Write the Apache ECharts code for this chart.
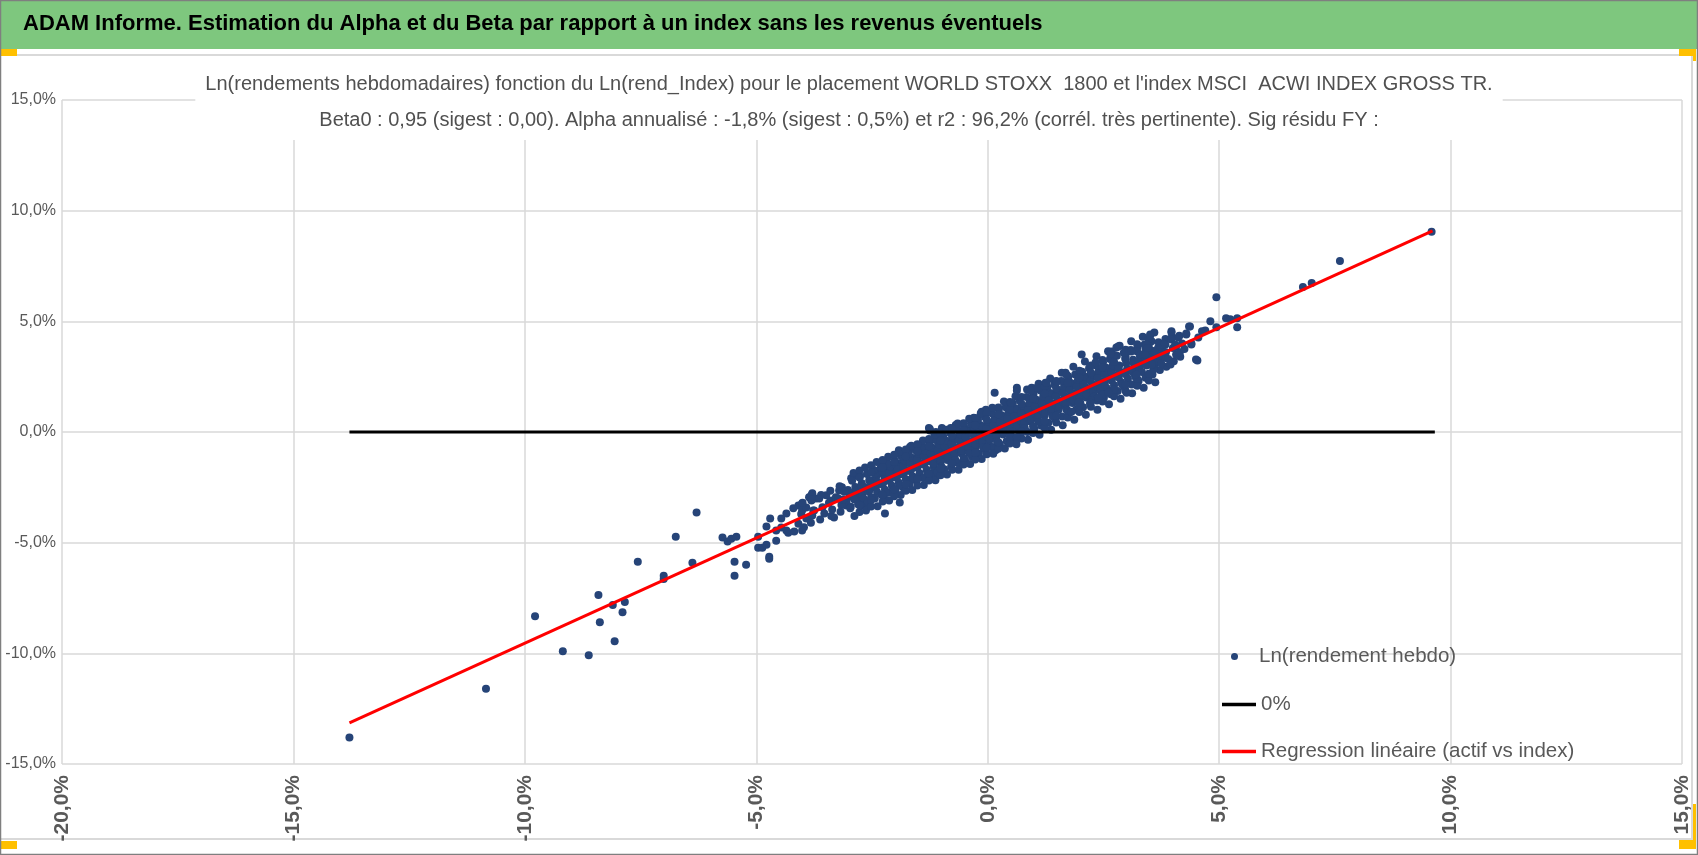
<!DOCTYPE html>
<html>
<head>
<meta charset="utf-8">
<title>ADAM Informe - Alpha et Beta</title>
<script src="https://cdn.jsdelivr.net/npm/echarts@6/dist/echarts.min.js"></script>
<style>
html,body{margin:0;padding:0;background:#fff;}
#chart{width:1698px;height:855px;}
</style>
</head>
<body>
<div id="chart"></div>
<script>
// valeurs en % (Ln rendement hebdo de l'index en x, du placement en y)
var headerText = 'ADAM Informe. Estimation du Alpha et du Beta par rapport à un index sans les revenus éventuels';
var titleLine1 = "Ln(rendements hebdomadaires) fonction du Ln(rend_Index) pour le placement WORLD STOXX  1800 et l'index MSCI  ACWI INDEX GROSS TR.";
var titleLine2 = 'Beta0 : 0,95 (sigest : 0,00). Alpha annualisé : -1,8% (sigest : 0,5%) et r2 : 96,2% (corrél. très pertinente). Sig résidu FY :';
var legendNames = ['Ln(rendement hebdo)', '0%', 'Regression linéaire (actif vs index)'];

var lowerTail = [
 [-13.79,-13.8],[-10.84,-11.6],[-9.78,-8.32],[-9.18,-9.91],[-8.62,-10.09],[-8.41,-7.36],[-8.38,-8.59],
 [-8.10,-7.82],[-8.06,-9.45],[-7.89,-8.14],[-7.84,-7.68],[-7.56,-5.86],[-7.0,-6.5],[-7.0,-6.64],
 [-6.74,-4.73],[-6.38,-5.91],[-6.29,-3.64],[-5.73,-4.77],[-5.62,-4.95],[-5.54,-4.82],[-5.43,-4.73],
 [-5.47,-5.86],[-5.47,-6.5],[-5.22,-6.0],[-4.96,-4.73],[-4.96,-5.23],[-4.87,-5.23],[-4.78,-5.09],
 [-4.72,-5.64],[-4.72,-5.73],[-4.78,-4.27],[-4.70,-3.91],[-4.57,-4.45],[-4.57,-4.91],[-4.46,-3.91],
 [-4.35,-3.68],[-4.46,-4.32],[-4.35,-4.45],[-4.31,-4.55],[-4.09,-3.32],[-4.01,-3.23],[-4.09,-4.14],
 [-4.01,-4.45],[-3.92,-3.91],[-3.79,-3.77],[-3.86,-2.95],[-3.79,-2.77],[-3.71,-3.0],[-4.01,-3.55],[-3.92,-3.41]
];

var midPoints = [
 [-3.81,-2.86],[-3.64,-3.0],[-3.81,-3.09],[-3.53,-3.68],[-3.32,-3.86],[-3.75,-3.55],[-3.49,-2.86],
 [-3.38,-3.09],[-3.28,-2.95],[-3.21,-2.64],[-3.15,-2.5],[-3.06,-3.32],[-2.95,-2.77],[-2.84,-2.73],
 [-2.78,-2.95],[-2.67,-3.32],[-2.95,-2.09],[-2.84,-1.95],[-2.63,-2.5],[-2.56,-2.64],[-2.50,-2.18],
 [-2.41,-1.86],[-2.35,-1.82],[-2.28,-1.36],[-2.2,-1.59],[-2.13,-1.86],[-2.24,-2.86],[-2.22,-3.68],
 [-1.9,-3.18],[-2.07,-2.05],[-1.98,-1.73],[-1.92,-1.41],[-1.92,-0.82],[-1.88,-1.05],[-1.81,-2.55],
 [-1.70,-2.18],[-1.68,-0.68],[-1.55,-1.27],[-1.49,-0.95],[-1.42,-0.82],[-1.34,-1.14],[-1.27,-0.68],
 [-1.21,-1.86],[-1.16,-2.05],[-1.25,0.14],[-1.12,-0.36],[-1.06,-0.5],[-0.99,-0.23],[-0.91,-0.82],
 [-0.84,-1.14],[-0.78,-0.36],[-0.69,0.32],[-0.99,0.18],[-0.63,-0.23],[-0.56,-0.5],[-0.47,-0.82],
 [-0.41,0.09],[-0.30,0.64],[-0.26,-0.68],[-0.19,-0.36],[-0.13,-0.05],[-0.09,0.91],[0.02,-0.23],
 [0.09,-0.68],[0.17,-0.82],[0.15,1.77],[-1.27,0.18],[-1.12,0.0],[-0.80,0.18],[-0.13,0.91],[-0.04,1.0],
 [-1.19,-2.07],[-1.25,0.07],[-0.99,0.1],[-0.67,0.25],[-1.66,-0.73],[0.63,-0.34]
];

var upperPoints = [
 [0.50,1.32],[0.63,2.0],[0.63,-0.23],[0.95,2.0],[1.06,2.0],[1.25,2.23],[1.27,2.23],[1.49,2.27],
 [1.68,2.68],[1.70,2.59],[2.03,3.5],[1.81,0.91],[1.96,1.32],[2.22,1.32],[2.33,3.14],[2.39,1.55],
 [2.61,1.77],[2.67,3.64],[2.78,3.82],[2.82,3.86],[2.97,3.59],[3.0,1.77],[3.10,3.64],[3.15,3.14],
 [3.21,2.59],[3.25,3.18],[3.41,3.73],[3.43,3.95],[3.51,4.41],[3.53,3.36],[3.58,2.91],[3.79,3.64],
 [3.84,3.95],[3.97,4.55],[4.07,3.5],[4.29,4.41],[4.37,4.77],[4.40,3.95],[4.50,3.27],[0.63,1.88],
 [0.93,1.88],[2.65,3.52],[3.3,3.5],[3.6,3.0],[3.7,3.3],[3.5,3.7],
 [9.59,9.05],[7.61,7.73],[6.81,6.55],[7.0,6.73],[4.94,6.09],[5.39,5.14],[5.39,4.73],[5.15,5.14],
 [5.24,5.09],[4.94,4.73],[4.81,5.0],[4.70,4.59],[4.63,4.55],[4.55,4.27],[4.35,4.77],[4.29,4.45],
 [4.40,4.0],[4.53,3.23],[4.12,4.27],[3.97,4.5],[3.97,4.18],[3.81,3.95],[4.07,3.86],[4.09,3.5],
 [3.84,3.36],[3.51,4.36],[3.58,2.82],[3.4,3.5],[3.45,3.8],[3.6,3.55],[3.65,3.2],
 [3.7,3.45],[3.75,3.1],[3.85,3.6],[3.9,3.3],[4.0,3.8],[4.05,3.95],[4.15,3.6],[4.2,4.0],[3.68,3.8],
 [3.95,3.05],[4.25,3.75],[3.55,3.05],[3.62,3.6]
];

var densePoints = [
 [-3.02,-2.62],[-2.98,-2.93],[-3.05,-3.15],[-2.96,-3.38],[-3.0,-2.75],
 [-2.86,-2.48],[-2.83,-2.82],[-2.88,-3.05],[-2.84,-2.66],
 [-2.72,-2.31],[-2.69,-2.57],[-2.71,-2.86],[-2.68,-3.02],[-2.73,-2.44],
 [-2.56,-2.18],[-2.53,-2.41],[-2.57,-2.69],[-2.54,-2.55],[-2.52,-2.95],
 [-2.41,-2.02],[-2.38,-2.27],[-2.42,-2.52],[-2.39,-2.71],[-2.37,-2.36],[-2.43,-1.88],
 [-2.26,-1.91],[-2.23,-2.12],[-2.27,-2.38],[-2.24,-2.24],[-2.22,-2.61],[-2.28,-1.77],
 [-2.11,-1.72],[-2.08,-1.96],[-2.12,-2.21],[-2.09,-2.06],[-2.07,-2.43],[-2.13,-1.86],[-2.1,-1.55],
 [-1.96,-1.58],[-1.93,-1.81],[-1.97,-2.07],[-1.94,-1.95],[-1.92,-2.29],[-1.98,-1.5],[-1.95,-1.69],
 [-1.81,-1.44],[-1.78,-1.69],[-1.82,-1.92],[-1.79,-1.79],[-1.77,-2.14],[-1.83,-1.55],[-1.8,-1.28],
 [-1.66,-1.31],[-1.63,-1.54],[-1.67,-1.77],[-1.64,-1.65],[-1.62,-2.01],[-1.68,-1.4],[-1.65,-1.15],
 [-1.51,-1.12],[-1.48,-1.38],[-1.52,-1.61],[-1.49,-1.49],[-1.47,-1.86],[-1.53,-1.26],[-1.5,-0.98],
 [-1.36,-0.99],[-1.33,-1.24],[-1.37,-1.48],[-1.34,-1.36],[-1.32,-1.71],[-1.38,-1.1],[-1.35,-0.84],
 [-1.21,-0.86],[-1.18,-1.09],[-1.22,-1.33],[-1.19,-1.21],[-1.17,-1.56],[-1.23,-0.96],[-1.2,-0.7],[-1.16,-1.42],
 [-1.06,-0.71],[-1.03,-0.94],[-1.07,-1.19],[-1.04,-1.06],[-1.02,-1.4],[-1.08,-0.81],[-1.05,-0.56],[-1.01,-1.28],
 [-0.91,-0.54],[-0.88,-0.79],[-0.92,-1.04],[-0.89,-0.91],[-0.87,-1.26],[-0.93,-0.66],[-0.9,-0.4],[-0.86,-1.14],
 [-0.76,-0.41],[-0.73,-0.68],[-0.77,-0.9],[-0.74,-0.76],[-0.72,-1.11],[-0.78,-0.52],[-0.75,-0.24],[-0.71,-0.99],
 [-0.61,-0.26],[-0.58,-0.54],[-0.62,-0.79],[-0.59,-0.61],[-0.57,-0.96],[-0.63,-0.37],[-0.6,-0.1],[-0.56,-0.86],
 [-0.46,-0.11],[-0.43,-0.39],[-0.47,-0.64],[-0.44,-0.46],[-0.42,-0.82],[-0.48,-0.22],[-0.45,0.06],[-0.41,-0.71],
 [-0.31,0.01],[-0.28,-0.24],[-0.32,-0.51],[-0.29,-0.31],[-0.27,-0.69],[-0.33,-0.09],[-0.3,0.21],[-0.26,-0.58],
 [-0.16,0.14],[-0.13,-0.11],[-0.17,-0.36],[-0.14,-0.16],[-0.12,-0.54],[-0.18,0.04],[-0.15,0.31],[-0.11,-0.44],
 [-0.01,0.29],[0.02,0.04],[-0.02,-0.21],[0.01,-0.01],[0.03,-0.41],[-0.03,0.16],[0.0,0.46],[0.04,-0.3],
 [0.14,0.44],[0.17,0.19],[0.13,-0.06],[0.16,0.09],[0.18,-0.26],[0.12,0.31],[0.15,0.61],[0.19,-0.14],
 [0.29,0.59],[0.32,0.34],[0.28,0.09],[0.31,0.24],[0.33,-0.11],[0.27,0.46],[0.3,0.76],[0.34,0.01],
 [0.44,0.74],[0.47,0.49],[0.43,0.24],[0.46,0.41],[0.48,0.04],[0.42,0.61],[0.45,0.91],[0.49,0.14],
 [0.59,0.86],[0.62,0.61],[0.58,0.36],[0.61,0.51],[0.63,0.19],[0.57,0.71],[0.6,1.06],[0.64,0.29],
 [0.74,1.01],[0.77,0.76],[0.73,0.49],[0.76,0.66],[0.78,0.31],[0.72,0.86],[0.75,1.21],[0.79,0.42],
 [0.89,1.16],[0.92,0.91],[0.88,0.64],[0.91,0.81],[0.93,0.46],[0.87,1.01],[0.9,1.31],[0.94,0.56],
 [1.04,1.31],[1.07,1.06],[1.03,0.79],[1.06,0.96],[1.08,0.61],[1.02,1.16],[1.05,1.46],[1.09,0.71],
 [1.19,1.46],[1.22,1.21],[1.18,0.94],[1.21,1.11],[1.23,0.76],[1.17,1.31],[1.2,1.61],[1.24,0.86],
 [1.34,1.61],[1.37,1.31],[1.33,1.06],[1.36,1.26],[1.38,0.89],[1.32,1.46],[1.35,1.76],[1.39,1.01],
 [1.49,1.76],[1.52,1.46],[1.48,1.21],[1.51,1.41],[1.53,1.01],[1.47,1.61],[1.5,1.91],[1.54,1.14],
 [1.64,1.91],[1.67,1.61],[1.63,1.36],[1.66,1.56],[1.68,1.16],[1.62,1.76],[1.65,2.06],[1.69,1.29],
 [1.79,2.06],[1.82,1.76],[1.78,1.51],[1.81,1.71],[1.83,1.31],[1.77,1.91],[1.8,2.21],[1.84,1.44],
 [1.94,2.21],[1.97,1.91],[1.93,1.61],[1.96,1.86],[1.98,1.46],[1.92,2.06],[1.95,2.36],[1.99,1.56],
 [2.09,2.31],[2.12,2.01],[2.08,1.76],[2.11,1.96],[2.13,1.56],[2.07,2.16],[2.1,2.51],[2.14,1.69],
 [2.24,2.46],[2.27,2.16],[2.23,1.91],[2.26,2.11],[2.28,1.71],[2.22,2.31],[2.25,2.61],[2.29,1.84],
 [2.39,2.61],[2.42,2.31],[2.38,2.01],[2.41,2.26],[2.43,1.86],[2.37,2.46],[2.4,2.76],[2.44,1.96],
 [2.54,2.76],[2.57,2.46],[2.53,2.16],[2.56,2.41],[2.58,1.96],[2.52,2.61],[2.55,2.91],
 [2.69,2.86],[2.72,2.56],[2.68,2.31],[2.71,2.51],[2.73,2.11],[2.67,2.71],[2.7,3.02],
 [2.84,3.01],[2.87,2.71],[2.83,2.46],[2.86,2.66],[2.88,2.26],[2.82,2.86],
 [2.99,3.11],[3.02,2.86],[2.98,2.61],[3.01,2.81],[3.03,2.41],[2.97,3.31],
 [3.14,3.26],[3.17,2.96],[3.13,2.71],[3.16,3.11],[3.18,2.56],
 [3.29,3.41],[3.32,3.11],[3.28,2.86],[3.31,3.26],[3.33,2.71],
 [3.44,3.56],[3.47,3.21],[3.43,3.01],[3.46,3.36],
 [3.59,3.66],[3.62,3.36],[3.58,3.11]
];

// bords haut et bas du nuage dense
var bandEdges = [
 [-4.2,-3.45],[-4.18,-4.5],[-4.0,-3.2],[-3.97,-4.3],[-4.03,-3.7],[-3.8,-3.05],[-3.82,-4.1],[-3.77,-3.55],
 [-3.6,-2.85],[-3.62,-3.95],[-3.57,-3.4],[-3.4,-2.65],[-3.38,-3.8],[-3.43,-3.2],[-3.36,-3.5],
 [-3.2,-2.45],[-3.18,-3.6],[-3.23,-3.0],[-3.16,-3.3],[-3.1,-2.7],[-3.12,-3.05],
 [-2.93,-2.2],[-2.97,-3.45],[-2.76,-2.0],[-2.74,-3.3],[-2.61,-1.9],[-2.59,-3.15],[-2.46,-1.72],[-2.44,-3.0],
 [-2.31,-1.6],[-2.29,-2.85],[-2.16,-1.42],[-2.14,-2.75],[-2.01,-1.3],[-1.99,-2.6],[-1.86,-1.1],[-1.84,-2.45],
 [-1.71,-0.98],[-1.69,-2.35],[-1.56,-0.82],[-1.54,-2.2],[-1.41,-0.66],[-1.39,-2.08],[-1.26,-0.52],[-1.24,-1.95],
 [-1.11,-0.35],[-1.09,-1.82],[-0.96,-0.2],[-0.94,-1.68],[-0.81,-0.05],[-0.79,-1.55],[-0.66,0.1],[-0.64,-1.4],
 [-0.51,0.24],[-0.49,-1.28],[-0.36,0.4],[-0.34,-1.12],[-0.21,0.55],[-0.19,-0.98],[-0.06,0.68],[-0.04,-0.85],
 [0.09,0.85],[0.11,-0.7],[0.24,1.0],[0.26,-0.55],[0.39,1.12],[0.41,-0.42],[0.54,1.3],[0.56,-0.28],
 [0.69,1.42],[0.71,-0.12],[0.84,1.58],[0.86,0.0],[0.99,1.72],[1.01,0.15],[1.14,1.88],[1.16,0.28],
 [1.29,2.02],[1.31,0.42],[1.44,2.15],[1.46,0.58],[1.59,2.3],[1.61,0.7],[1.74,2.45],[1.76,0.85],
 [1.89,2.6],[1.91,1.0],[2.04,2.72],[2.06,1.12],[2.19,2.88],[2.21,1.28],[2.34,3.0],[2.36,1.42],
 [2.49,3.15],[2.51,1.55],[2.64,3.3],[2.66,1.7],[2.79,3.45],[2.81,1.85],[2.94,3.58],[2.96,2.0],
 [3.09,3.7],[3.11,2.15],[3.24,3.85],[3.26,2.3],[3.39,3.95],[3.41,2.45],[3.54,4.1],[3.56,2.6],
 [3.72,2.8],[3.69,4.05],[3.86,2.95],[3.84,4.2],[4.02,3.2],[3.98,4.3],[4.16,3.4],[4.14,4.35]
];

// frange extérieure du nuage
var bandOuter = [
 [-2.9,-1.85],[-2.88,-3.8],[-2.65,-1.6],[-2.63,-3.55],[-2.4,-1.35],[-2.38,-3.35],[-2.15,-1.12],[-2.13,-3.1],
 [-1.9,-0.9],[-1.88,-2.85],[-1.65,-0.62],[-1.63,-2.62],[-1.4,-0.38],[-1.38,-2.4],[-1.15,-0.12],[-1.13,-2.18],
 [-0.9,0.1],[-0.88,-1.92],[-0.65,0.38],[-0.63,-1.7],[-0.4,0.6],[-0.38,-1.45],[-0.15,0.85],[-0.13,-1.22],
 [0.1,1.1],[0.12,-0.98],[0.35,1.38],[0.37,-0.75],[0.6,1.62],[0.62,-0.55],[0.85,1.92],[0.87,-0.35],
 [1.1,2.18],[1.12,-0.12],[1.35,2.42],[1.37,0.1],[1.6,2.68],[1.62,0.3],[1.85,2.95],[1.87,0.55],
 [2.1,3.18],[2.12,0.78],[2.35,3.42],[2.37,1.0],[2.6,3.65],[2.62,1.25],[2.85,3.9],[2.87,1.5],
 [3.1,4.1],[3.12,1.75],[3.35,4.3],[3.37,2.0],[3.6,4.5],[3.62,2.25],
 [-2.8,-3.26],[-2.5,-2.98],[-2.2,-2.71],[-1.9,-2.41],[-1.6,-2.1],[-1.3,-1.84],[-1.0,-1.57],[-0.7,-1.27],
 [-0.4,-0.96],[-0.1,-0.7],[0.2,-0.43],[0.5,-0.12],[0.8,0.18],[1.1,0.45],[1.4,0.71],[1.7,1.02],
 [2.0,1.32],[2.3,1.59],[2.6,1.85],[2.9,2.16],[3.2,2.46]
];

// remplissage entre le coeur et la frange
var bandFill = [
 [-2.77,-1.74],[-2.77,-3.61],[-2.52,-1.5],[-2.52,-3.37],[-2.27,-1.27],[-2.27,-3.14],[-2.02,-1.03],[-2.02,-2.9],
 [-1.77,-0.79],[-1.77,-2.66],[-1.52,-0.55],[-1.52,-2.42],[-1.27,-0.32],[-1.27,-2.19],[-1.02,-0.08],[-1.02,-1.95],
 [-0.77,0.16],[-0.77,-1.71],[-0.52,0.4],[-0.52,-1.47],[-0.27,0.63],[-0.27,-1.24],[-0.02,0.87],[-0.02,-1.0],
 [0.23,1.11],[0.23,-0.76],[0.48,1.35],[0.48,-0.52],[0.73,1.58],[0.73,-0.29],[0.98,1.82],[0.98,-0.05],
 [1.23,2.06],[1.23,0.19],[1.48,2.3],[1.48,0.43],[1.73,2.53],[1.73,0.66],[1.98,2.77],[1.98,0.9],
 [2.23,3.01],[2.23,1.14],[2.48,3.25],[2.48,1.38],[2.73,3.48],[2.73,1.61],[2.98,3.72],[2.98,1.85],
 [3.23,3.96],[3.23,2.09],[3.48,4.2],[3.48,2.33],
 [-2.77,-2.06],[-2.77,-3.31],[-2.52,-1.82],[-2.52,-3.07],[-2.27,-1.59],[-2.27,-2.84],[-2.02,-1.35],[-2.02,-2.6],
 [-1.77,-1.11],[-1.77,-2.36],[-1.52,-0.87],[-1.52,-2.12],[-1.27,-0.64],[-1.27,-1.89],[-1.02,-0.4],[-1.02,-1.65],
 [-0.77,-0.16],[-0.77,-1.41],[-0.52,0.08],[-0.52,-1.17],[-0.27,0.31],[-0.27,-0.94],[-0.02,0.55],[-0.02,-0.7],
 [0.23,0.79],[0.23,-0.46],[0.48,1.03],[0.48,-0.22],[0.73,1.26],[0.73,0.01],[0.98,1.5],[0.98,0.25],
 [1.23,1.74],[1.23,0.49],[1.48,1.98],[1.48,0.73],[1.73,2.21],[1.73,0.96],[1.98,2.45],[1.98,1.2],
 [2.23,2.69],[2.23,1.44],[2.48,2.93],[2.48,1.68],[2.73,3.16],[2.73,1.91],[2.98,3.4],[2.98,2.15],
 [3.23,3.64],[3.23,2.39],[3.48,3.88],[3.48,2.63]
];

var zeroLine = [[-13.79, 0], [9.66, 0]];
var regressionLine = [[-13.79, -13.14], [9.61, 9.09]];

var font = '"Liberation Sans", Arial, sans-serif';
var grey = '#595959';

function pct(v) { return v.toFixed(1).replace('.', ',') + '%'; }

var chart = echarts.init(document.getElementById('chart'));
chart.setOption({
  animation: false,
  backgroundColor: '#fff',
  textStyle: { fontFamily: font },
  graphic: [
    { type: 'rect', shape: { x: 0, y: 0, width: 1698, height: 49 }, style: { fill: '#7EC77E' }, z: -10 },
    { type: 'polyline', shape: { points: [[0, 55], [1692, 55], [1692, 839], [0, 839]] },
      style: { stroke: '#d9d9d9', lineWidth: 2, fill: null }, z: -9 },
    { type: 'rect', shape: { x: 0, y: 49, width: 17, height: 7 }, style: { fill: '#FFC000' } },
    { type: 'rect', shape: { x: 1679, y: 49, width: 17, height: 7 }, style: { fill: '#FFC000' } },
    { type: 'rect', shape: { x: 1693, y: 49, width: 3, height: 12 }, style: { fill: '#FFC000' } },
    { type: 'rect', shape: { x: 0, y: 841, width: 17, height: 8 }, style: { fill: '#FFC000' } },
    { type: 'rect', shape: { x: 1679, y: 840, width: 17, height: 9 }, style: { fill: '#FFC000' } },
    { type: 'rect', shape: { x: 1693, y: 804, width: 3, height: 45 }, style: { fill: '#FFC000' } },
    { type: 'rect', shape: { x: 0.5, y: 0.5, width: 1697, height: 854 },
      style: { stroke: '#7f7f7f', lineWidth: 1.5, fill: null }, z: 100 }
  ],
  title: [
    { text: headerText, left: 23, top: 13, padding: 0,
      textStyle: { fontFamily: font, fontSize: 22, fontWeight: 'bold', color: '#000' } },
    { text: titleLine1 + '\n' + titleLine2, left: 'center', top: 64,
      backgroundColor: '#fff', padding: [2, 10, 2, 10], z: 5,
      textStyle: { fontFamily: font, fontSize: 20, lineHeight: 36, color: '#505050', fontWeight: 'normal', align: 'center' } }
  ],
  legend: [
    { data: [{ name: legendNames[0], icon: 'circle' }], left: 1231, top: 646, padding: 0,
      itemWidth: 7, itemHeight: 7, selectedMode: false,
      textStyle: { fontFamily: font, fontSize: 20.5, color: grey, padding: [0, 0, 0, 16] } },
    { data: [{ name: legendNames[1], icon: 'rect' }], left: 1222, top: 694, padding: 0,
      itemWidth: 34, itemHeight: 3.5, selectedMode: false,
      textStyle: { fontFamily: font, fontSize: 20.5, color: grey } },
    { data: [{ name: legendNames[2], icon: 'rect' }], left: 1222, top: 741, padding: 0,
      itemWidth: 34, itemHeight: 3.5, selectedMode: false,
      textStyle: { fontFamily: font, fontSize: 20.5, color: grey } }
  ],
  grid: { left: 62, right: 16, top: 100, bottom: 91, containLabel: false },
  xAxis: {
    type: 'value', min: -20, max: 15, interval: 5,
    axisLine: { show: false }, axisTick: { show: false },
    splitLine: { show: true, lineStyle: { color: '#d9d9d9', width: 1.5 } },
    axisLabel: { rotate: 90, margin: 11, fontFamily: font, fontSize: 21, fontWeight: 'bold', color: grey, formatter: pct }
  },
  yAxis: {
    type: 'value', min: -15, max: 15, interval: 5,
    axisLine: { show: false }, axisTick: { show: false },
    splitLine: { show: true, lineStyle: { color: '#d9d9d9', width: 1.5 } },
    axisLabel: { margin: 6, fontFamily: font, fontSize: 16, color: grey, formatter: pct }
  },
  series: [
    { name: legendNames[1], type: 'line', data: zeroLine, symbol: 'none',
      lineStyle: { color: '#000', width: 3 }, itemStyle: { color: '#000' } },
    { name: legendNames[2], type: 'line', data: regressionLine, symbol: 'none',
      lineStyle: { color: '#FF0000', width: 3 }, itemStyle: { color: '#FF0000' } },
    { name: legendNames[0], type: 'scatter', symbolSize: 8,
      data: lowerTail.concat(midPoints, densePoints, bandEdges, bandOuter, bandFill, upperPoints),
      itemStyle: { color: '#264478', opacity: 1 } }
  ]
});
</script>
</body>
</html>
